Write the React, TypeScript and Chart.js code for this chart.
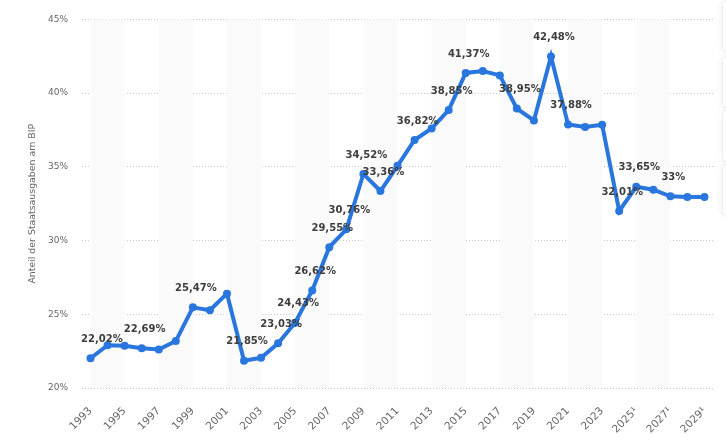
import React, { useEffect, useRef } from "react";
import { Chart, registerables } from "chart.js";

Chart.register(...registerables);

const years: string[] = [
  "1993", "1994", "1995", "1996", "1997", "1998", "1999", "2000", "2001", "2002",
  "2003", "2004", "2005", "2006", "2007", "2008", "2009", "2010", "2011", "2012",
  "2013", "2014", "2015", "2016", "2017", "2018", "2019", "2020", "2021", "2022",
  "2023", "2024", "2025¹", "2026¹", "2027¹", "2028¹", "2029¹",
];

const shareOfGdp: number[] = [
  22.02, 22.9, 22.86, 22.69, 22.61, 23.18, 25.47, 25.27, 26.4, 21.85,
  22.05, 23.03, 24.43, 26.62, 29.55, 30.76, 34.52, 33.36, 35.07, 36.82,
  37.6, 38.85, 41.37, 41.5, 41.2, 38.95, 38.15, 42.48, 37.88, 37.7,
  37.85, 32.01, 33.65, 33.45, 33, 32.95, 32.95,
];

const labelledYears: string[] = [
  "1993", "1996", "1999", "2002", "2004", "2005", "2006", "2007", "2008", "2009",
  "2010", "2012", "2014", "2015", "2018", "2020", "2021", "2024", "2025¹", "2027¹",
];

const yTicks: number[] = [20, 25, 30, 35, 40, 45];

const axisTitle = "Anteil der Staatsausgaben am BIP";

const BLUE = "#2876de";
const fmt = new Intl.NumberFormat("de-DE", { maximumFractionDigits: 2 });

const bandsPlugin = {
  id: "bands",
  beforeDatasetsDraw(chart: any) {
    const { ctx, chartArea, scales } = chart;
    const x = scales.x;
    ctx.save();
    ctx.fillStyle = "#fafafa";
    for (let i = 0; i + 2 < years.length; i += 4) {
      const a = x.getPixelForValue(i);
      const b = x.getPixelForValue(i + 2);
      ctx.fillRect(a, chartArea.top, b - a, chartArea.bottom - chartArea.top);
    }
    ctx.restore();
  },
};

const labelsPlugin = {
  id: "valueLabels",
  afterDatasetsDraw(chart: any) {
    const { ctx, chartArea } = chart;
    const meta = chart.getDatasetMeta(0);
    ctx.save();
    ctx.font = "bold 10px 'DejaVu Sans'";
    ctx.fillStyle = "#3d3d3d";
    ctx.textAlign = "center";
    ctx.textBaseline = "middle";
    years.forEach((yr, i) => {
      if (!labelledYears.includes(yr)) return;
      const pt = meta.data[i];
      const text = fmt.format(shareOfGdp[i]) + "%";
      const w = ctx.measureText(text).width;
      let cx = pt.x + 3;
      if (cx - w / 2 < chartArea.left - 1) cx = chartArea.left - 1 + w / 2;
      ctx.fillText(text, cx, pt.y - 19);
    });
    ctx.restore();
  },
};

export default function App() {
  const ref = useRef<HTMLCanvasElement | null>(null);

  useEffect(() => {
    if (!ref.current) return;
    const chart = new Chart(ref.current, {
      type: "line",
      data: {
        labels: years,
        datasets: [
          {
            data: shareOfGdp,
            borderColor: BLUE,
            backgroundColor: BLUE,
            borderWidth: 4,
            pointRadius: 4,
            pointBorderWidth: 0,
            pointBackgroundColor: BLUE,
            tension: 0,
          },
        ],
      },
      options: {
        animation: false,
        responsive: false,
        maintainAspectRatio: false,
        layout: { padding: { top: 18, right: 13, bottom: 0, left: 0 } },
        plugins: {
          legend: { display: false },
          tooltip: { enabled: false },
        },
        scales: {
          x: {
            type: "category",
            offset: true,
            grid: { display: false },
            border: { display: false },
            afterFit(scale: any) {
              scale.height = 59;
            },
            ticks: {
              autoSkip: false,
              maxRotation: 45,
              minRotation: 45,
              padding: 9,
              color: "#666666",
              font: { family: "'DejaVu Sans'", size: 10.5 },
              callback(_v: any, i: number) {
                return i % 2 === 0 ? years[i] : "";
              },
            },
          },
          y: {
            min: 20,
            max: 45,
            afterBuildTicks(scale: any) {
              scale.ticks = yTicks.map((v) => ({ value: v }));
            },
            afterFit(scale: any) {
              scale.width = 82;
            },
            border: { display: false, dash: [1, 2] },
            grid: {
              color: "#c8c8c8",
              lineWidth: 1,
              drawTicks: false,
            },
            ticks: {
              padding: 14,
              color: "#666666",
              font: { family: "'DejaVu Sans'", size: 9 },
              callback(v: any) {
                return v + "%";
              },
            },
            title: {
              display: true,
              text: axisTitle,
              color: "#666666",
              font: { family: "'DejaVu Sans'", size: 9.4 },
              padding: { top: 27, bottom: 0 },
            },
          },
        },
      },
      plugins: [bandsPlugin, labelsPlugin],
    });
    return () => chart.destroy();
  }, []);

  const boxes = [0, 56, 110, 164];
  return (
    <div style={{ position: "fixed", left: 0, top: 0, width: 726, height: 447, background: "#fff", overflow: "hidden" }}>
      <canvas ref={ref} width={726} height={447} style={{ width: 726, height: 447, display: "block" }} />
      {boxes.map((t) => (
        <div
          key={t}
          style={{
            position: "absolute",
            left: 722,
            top: t,
            width: 40,
            height: 50,
            background: "#fff",
            borderRadius: 4,
            border: "1px solid #eeeeee",
            boxShadow: "0 0 10px rgba(0,0,0,0.06)",
          }}
        />
      ))}
    </div>
  );
}
